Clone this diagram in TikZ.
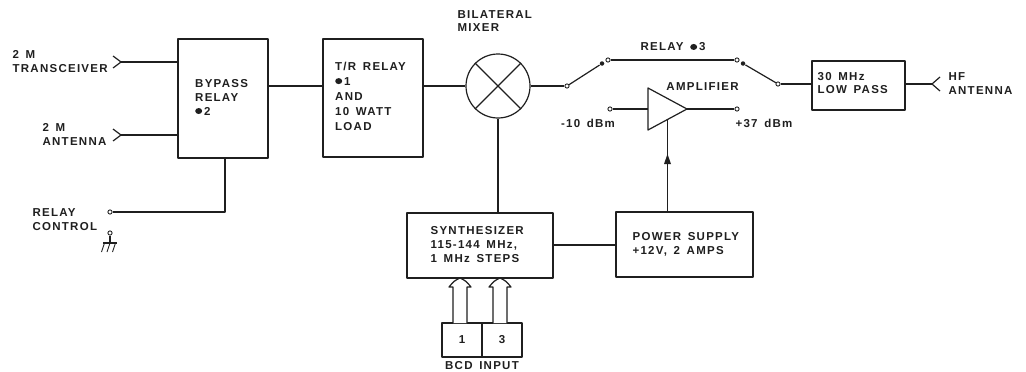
\documentclass[tikz,border=0pt]{standalone}
\usepackage{fontspec}
\setmainfont{Liberation Sans}[LetterSpace=11]
\newfontfamily\lf{Liberation Sans Bold}[LetterSpace=11,WordSpace=1.5]
\usetikzlibrary{calc}
\newcommand\nsign{\raisebox{1pt}{\tikz\fill (0,0) ellipse (3.5pt and 3pt);}}
\tikzset{
  box/.style={draw, inner sep=0pt},
  txt/.style={font=\fontsize{11.5}{14}\selectfont\lf, align=left, inner sep=0pt, anchor=west},
  ctxt/.style={font=\fontsize{11.5}{14}\selectfont\lf, align=center, inner sep=0pt},
  term/.style={circle, draw, fill=white, inner sep=0pt, minimum size=4.2pt, line width=0.9pt},
  blob/.style={circle, fill, inner sep=0pt, minimum size=4.5pt},
  hollowarrow/.style={draw, fill=white}
}
\begin{document}
\begin{tikzpicture}[x=1pt,y=-1pt,line width=1.2pt,line join=round,color={black!88}]
\useasboundingbox (0,0) rectangle (1026,372);

% boxes
\node[box, minimum width=90pt, minimum height=119pt] (bypass) at (223,98.5) {};
\node[box, minimum width=100pt, minimum height=118pt] (tr) at (373,98) {};
\node[box, minimum width=93pt, minimum height=49pt] (lowpass) at (858.5,85.5) {};
\node[box, minimum width=146pt, minimum height=65pt] (synth) at (480,245.5) {};
\node[box, minimum width=137pt, minimum height=65pt] (power) at (684.5,244.5) {};
\node[box, minimum width=40pt, minimum height=34pt] (bcd1) at (462,340) {};
\node[box, minimum width=40pt, minimum height=34pt] (bcd3) at (502,340) {};
\node[circle, draw, minimum size=64pt, inner sep=0pt] (mixer) at (498,86) {};
\draw (mixer.45) -- (mixer.225) (mixer.135) -- (mixer.315);

% texts
\node[txt] (t2mt) at (12,61.5) {2 M\\TRANSCEIVER};
\node[txt] (t2ma) at (42,134.5) {2 M\\ANTENNA};
\node[txt] (tbyp) at (195,97) {BYPASS\\RELAY\\\nsign\,2};
\node[txt, font=\fontsize{11.5}{15}\selectfont\lf] (ttr) at (335,96) {T/R RELAY\\\nsign\,1\\AND\\10 WATT\\LOAD};
\node[txt, font=\fontsize{11.5}{13}\selectfont\lf] (tmix) at (457,21.5) {BILATERAL\\MIXER};
\node[ctxt] (trel3) at (673,47) {RELAY \nsign\,3};
\node[ctxt] (tamp) at (702.5,87) {AMPLIFIER};
\node[ctxt] (tin) at (588,123) {-10 dBm};
\node[ctxt] (tout) at (764,123) {+37 dBm};
\node[txt, font=\fontsize{11.5}{13}\selectfont\lf] (tlp) at (817,83.5) {30 MHz\\LOW PASS};
\node[txt] (thf) at (948,84) {HF\\ANTENNA};
\node[txt] (trc) at (32,220) {RELAY\\CONTROL};
\node[txt] (tsyn) at (430,244.5) {SYNTHESIZER\\115-144 MHz,\\1 MHz STEPS};
\node[txt] (tpow) at (632,244) {POWER SUPPLY\\+12V, 2 AMPS};
\node[ctxt] (t1) at (bcd1) {1};
\node[ctxt] (t3) at (bcd3) {3};
\node[ctxt] (tbcd) at (482,366) {BCD INPUT};

% input chevrons
\coordinate (tv) at (121,62);
\draw (113,56) -- (tv) -- (113,68);
\draw (tv) -- (tv -| bypass.west);
\coordinate (av) at (121,135);
\draw (113,129) -- (av) -- (113,141);
\draw (av) -- (av -| bypass.west);

% bypass -> T/R -> mixer
\coordinate (b1) at (268,86);
\draw (b1 -| bypass.east) -- (b1 -| tr.west);
\draw (tr.east |- mixer) -- (mixer.west);

% relay control
\coordinate (rcx) at (225,212);
\node[term] (rcterm) at (110,212) {};
\draw (rcx |- bypass.south) -- (rcx) -- (rcterm);
\node[term] (gterm) at (110,233) {};
\coordinate (gnd) at (110,243);
\draw (gterm) -- (gnd);
\draw (103,243) -- (117,243);
\draw[line width=0.9pt] (104.5,243) -- (101.5,252) (110,243) -- (107,252) (115.5,243) -- (112.5,252);

% relay 3 switch
\node[term] (s1) at (567,86) {};
\node[term] (c1) at (608,60) {};
\node[term] (c2) at (737,60) {};
\node[term] (s2) at (778,84) {};
\node[blob] (b1t) at (602,63.5) {};
\node[blob] (b2t) at (743,63.5) {};
\draw (mixer.east) -- (s1);
\draw (s1) -- (b1t);
\draw (c1) -- (c2);
\draw (s2) -- (b2t);
\draw (s2) -- (s2 -| lowpass.west);

% HF antenna
\coordinate (hv) at (932,84);
\draw (lowpass.east |- hv) -- (hv);
\draw (940,77) -- (hv) -- (940,91);

% amplifier
\coordinate (ampTop) at (648,88);
\coordinate (ampTip) at (687,109);
\coordinate (ampBot) at (648,130);
\draw (ampTop) -- (ampTip) -- (ampBot) -- cycle;
\node[term] (ain) at (610,109) {};
\node[term] (aout) at (737,109) {};
\draw (ain) -- (ain -| ampTop);
\draw (ampTip) -- (aout);
\coordinate (afeed) at ($(ampBot)!0.5!(ampTip)$);
\draw (afeed) -- (afeed |- power.north);
\fill (667.5,154) -- (671,164) -- (664,164) -- cycle;

% mixer -> synth, synth -> power
\draw (mixer.south) -- (mixer.south |- synth.north);
\coordinate (sp) at (553,245);
\draw (sp -| synth.east) -- (sp -| power.west);

% BCD hollow arrows
\foreach \n/\cx in {a/460,b/500}{
  \draw[hollowarrow] (\cx-7,323) -- (\cx-7,287) -- (\cx-11,287) .. controls (\cx-6,281) .. (\cx,278) .. controls (\cx+6,281) .. (\cx+11,287) -- (\cx+7,287) -- (\cx+7,323);
}
\end{tikzpicture}
\end{document}
